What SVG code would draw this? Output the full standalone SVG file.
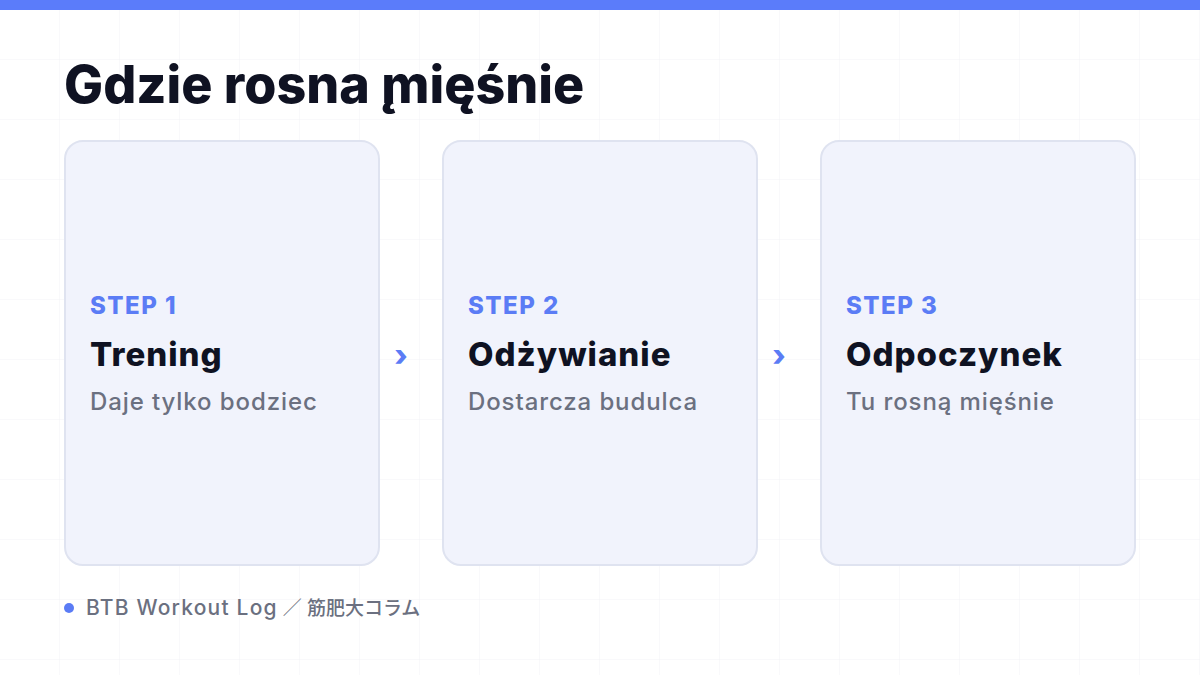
<svg xmlns="http://www.w3.org/2000/svg" width="1200" height="675" viewBox="0 0 1200 675">
<defs>
<pattern id="grid" width="60" height="60" patternUnits="userSpaceOnUse">
<path d="M60 0V60M0 60H60" fill="none" stroke="#f2f3f6" stroke-width="1"/>
</pattern>
</defs>
<style>
.card{fill:#f1f3fc;stroke:#dfe3f0;stroke-width:2}
.step{font-family:Inter,"Liberation Sans",sans-serif;font-weight:800;font-size:24px;letter-spacing:1.5px;fill:#5b7cf5}
.name{font-family:Inter,"Liberation Sans",sans-serif;font-weight:800;font-size:33px;letter-spacing:1px;fill:#0f1222}
.sub{font-family:Inter,"Liberation Sans",sans-serif;font-weight:500;font-size:24px;letter-spacing:0.9px;fill:#6b7080}
.chev{font-family:Inter,"Liberation Sans",sans-serif;font-weight:800;font-size:30px;fill:#5b7cf5}
</style>
<rect width="1200" height="675" fill="#ffffff"/>
<rect width="1200" height="675" fill="url(#grid)"/>
<rect width="1200" height="10" fill="#5b7cfa"/>
<text x="64" y="103" font-family="Inter,'Liberation Sans',sans-serif" font-weight="800" font-size="52" fill="#0f1222">Gdzie rosna &#x328;mięśnie</text>
<g id="step1">
<rect class="card" x="65" y="141" width="314" height="424" rx="18"/>
<text class="step" x="90" y="314">STEP 1</text>
<text class="name" x="90" y="366">Trening</text>
<text class="sub" x="90" y="410">Daje tylko bodziec</text>
</g>
<g id="step2">
<rect class="card" x="443" y="141" width="314" height="424" rx="18"/>
<text class="step" x="468" y="314">STEP 2</text>
<text class="name" x="468" y="366">Odżywianie</text>
<text class="sub" x="468" y="410">Dostarcza budulca</text>
</g>
<g id="step3">
<rect class="card" x="821" y="141" width="314" height="424" rx="18"/>
<text class="step" x="846" y="314">STEP 3</text>
<text class="name" x="846" y="366">Odpoczynek</text>
<text class="sub" x="846" y="410">Tu rosną mięśnie</text>
</g>
<g id="connectors">
<text class="chev" x="401" y="366" text-anchor="middle">›</text>
<text class="chev" x="779" y="366" text-anchor="middle">›</text>
</g>
<g id="footer">
<circle cx="69" cy="608" r="5" fill="#5b7cf5"/>
<text x="86" y="615" font-family="Inter,'Noto Sans CJK JP',sans-serif" font-weight="500" font-size="21" fill="#6b7080"><tspan letter-spacing="1.2">BTB Workout Log</tspan><tspan font-size="19"> ／ 筋肥大コラム</tspan></text>
</g>
</svg>
